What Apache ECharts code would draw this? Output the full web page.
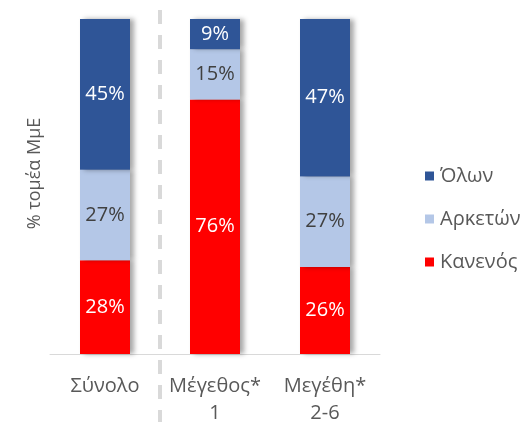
<!DOCTYPE html>
<html>
<head>
<meta charset="utf-8">
<script src="https://cdn.jsdelivr.net/npm/echarts@6/dist/echarts.min.js"></script>
<style>html,body{margin:0;padding:0;background:#fff}#c{width:529px;height:427px}</style>
</head>
<body>
<div id="c"></div>
<script>
const categories = ['Σύνολο', 'Μέγεθος*\n1', 'Μεγέθη*\n2-6'];
const kanenos = [28, 76, 26];
const arketon = [27, 15, 27];
const olon = [45, 9, 47];
const seriesNames = ['Κανενός', 'Αρκετών', 'Όλων'];
const legendOrder = ['Όλων', 'Αρκετών', 'Κανενός'];
const yAxisName = '% τομέα ΜμΕ';

const FONT = '"Open Sans", "Noto Sans", sans-serif';
const shadow = {shadowColor: 'rgba(0,0,0,0.35)', shadowBlur: 5, shadowOffsetX: 4, shadowOffsetY: 0};

function mk(name, data, color, labelColor) {
  return {
    name: name, type: 'bar', stack: 'total', data: data, barWidth: 50,
    itemStyle: Object.assign({color: color}, shadow),
    label: {show: true, position: 'inside', formatter: '{c}%', color: labelColor,
            fontFamily: FONT, fontSize: 20}
  };
}

const chart = echarts.init(document.getElementById('c'), null, {renderer: 'canvas'});
chart.setOption({
  animation: false,
  backgroundColor: '#fff',
  grid: {left: 50, right: 149, top: 19, bottom: 70, containLabel: false},
  legend: {
    data: legendOrder, orient: 'vertical', left: 420, top: 161,
    itemWidth: 9, itemHeight: 9, itemGap: 23, icon: 'rect',
    textStyle: {fontFamily: FONT, fontSize: 20, color: '#595959', padding: [0, 0, 0, 1]}
  },
  xAxis: {
    type: 'category', data: categories,
    axisLine: {lineStyle: {color: '#d9d9d9', width: 1}},
    axisTick: {show: false},
    axisLabel: {fontFamily: FONT, fontSize: 20, color: '#595959', margin: 19, lineHeight: 27,
                interval: 0, hideOverlap: false}
  },
  yAxis: {
    type: 'value', min: 0, max: 100,
    name: yAxisName, nameLocation: 'middle', nameGap: 6, nameRotate: 90,
    nameTextStyle: {fontFamily: FONT, fontSize: 18, color: '#595959', padding: [0, 0, 0, 26]},
    axisLine: {show: false}, axisTick: {show: false}, axisLabel: {show: false},
    splitLine: {show: false}
  },
  series: [
    mk(seriesNames[0], kanenos, '#FF0000', '#ffffff'),
    mk(seriesNames[1], arketon, '#B4C7E7', '#404040'),
    mk(seriesNames[2], olon, '#2F5597', '#ffffff')
  ]
});

// separator between first and second category
const p0 = chart.convertToPixel({xAxisIndex: 0}, 0);
const p1 = chart.convertToPixel({xAxisIndex: 0}, 1);
const sx = (p0 + p1) / 2;
chart.setOption({
  graphic: [{
    type: 'line', silent: true, z: 0,
    shape: {x1: sx, y1: 10, x2: sx, y2: 422},
    style: {stroke: '#d9d9d9', lineWidth: 4, lineDash: [14, 11]}
  }]
});
</script>
</body>
</html>
